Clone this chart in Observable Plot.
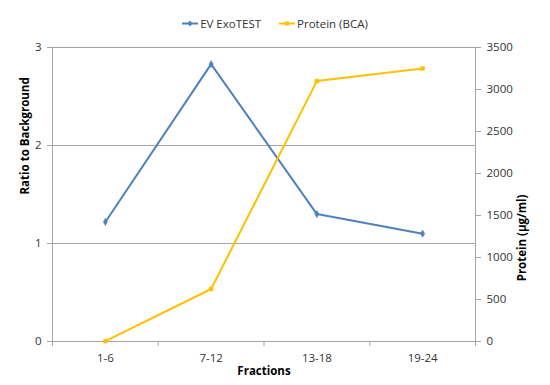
<!DOCTYPE html>
<html>
<head>
<meta charset="utf-8">
<script src="https://cdn.jsdelivr.net/npm/d3@7"></script>
<script src="https://cdn.jsdelivr.net/npm/@observablehq/plot@0.6"></script>
<style>
  html, body { margin: 0; padding: 0; background: #fff; }
  #wrap { position: relative; width: 550px; height: 385px; font-family: "Open Sans", sans-serif; }
  #legend { position: absolute; top: 16px; left: 0; width: 550px; text-align: center; font-size: 11.5px; color: #333; }
  .item { display: inline-flex; align-items: center; margin: 0 9px; }
  .item svg { margin-right: 2px; }
</style>
</head>
<body>
<div id="wrap">
  <div id="legend"></div>
</div>
<script>
const fractions = ["1-6", "7-12", "13-18", "19-24"];
const ratio = [1.22, 2.83, 1.30, 1.10];
const protein = [5, 625, 3100, 3250];
const ratioTicks = [0, 1, 2, 3];
const proteinTicks = [0, 500, 1000, 1500, 2000, 2500, 3000, 3500];
const seriesNames = ["EV ExoTEST", "Protein (BCA)"];
const colors = ["#4F81BD", "#FFC000"];

const proteinMax = 3500, ratioMax = 3;
const toY = p => p * ratioMax / proteinMax;

const ratioData = fractions.map((f, i) => ({x: i + 0.5, y: ratio[i]}));
const proteinData = fractions.map((f, i) => ({x: i + 0.5, y: toY(protein[i])}));
const grey = "#a6a6a6";
const font = "Open Sans, sans-serif";

const chart = Plot.plot({
  width: 550,
  height: 385,
  marginLeft: 52,
  marginRight: 75,
  marginTop: 47,
  marginBottom: 44,
  style: {fontFamily: font, fontSize: "11.5px", color: "#333", background: "transparent"},
  x: {domain: [0, 4], axis: null},
  y: {domain: [0, 3], axis: null},
  marks: [
    Plot.ruleY([1, 2, 3], {stroke: grey, strokeWidth: 1}),
    Plot.ruleY([0], {stroke: grey, strokeWidth: 1}),
    Plot.ruleX([0, 4], {stroke: grey, strokeWidth: 1}),
    Plot.axisY({ticks: ratioTicks, tickSize: 5, tickPadding: 6, stroke: grey, tickFormat: d => String(d), label: null, fontSize: 11.5, fill: "#333"}),
    Plot.axisY({anchor: "right", ticks: proteinTicks.map(toY), tickSize: 5, tickPadding: 6, stroke: grey,
      tickFormat: d => String(Math.round(d * proteinMax / ratioMax)), label: null, fontSize: 11.5, fill: "#333"}),
    Plot.axisX({ticks: [0, 1, 2, 3, 4], tickSize: 5, stroke: grey, tickFormat: () => "", label: null}),
    Plot.axisX({ticks: fractions.map((f, i) => i + 0.5), tickSize: 0, tickPadding: 12, tickFormat: d => fractions[Math.round(d - 0.5)], label: null, fontSize: 11.5, fill: "#333"}),
    Plot.text(["Ratio to Background"], {frameAnchor: "left", dx: -27, rotate: -90, fontWeight: "bold", fontSize: 11.5, fill: "#000"}),
    Plot.text(["Protein (µg/ml)"], {frameAnchor: "right", dx: 47, rotate: -90, fontWeight: "bold", fontSize: 11.5, fill: "#000"}),
    Plot.text(["Fractions"], {frameAnchor: "bottom", dy: 33, fontWeight: "bold", fontSize: 11.5, fill: "#000"}),
    Plot.line(ratioData, {x: "x", y: "y", stroke: colors[0], strokeWidth: 2}),
    Plot.dot(ratioData, {x: "x", y: "y", symbol: "diamond", r: 2.2, fill: colors[0], stroke: colors[0], strokeWidth: 0.5}),
    Plot.line(proteinData, {x: "x", y: "y", stroke: colors[1], strokeWidth: 2}),
    Plot.dot(proteinData, {x: "x", y: "y", symbol: "square", r: 2.2, fill: colors[1], stroke: colors[1], strokeWidth: 0.5})
  ]
});
document.getElementById("wrap").appendChild(chart);

const legend = document.getElementById("legend");
seriesNames.forEach((name, i) => {
  const marker = i === 0
    ? `<polygon points="8,1.5 10.5,4.5 8,7.5 5.5,4.5" fill="${colors[0]}"/>`
    : `<rect x="6" y="2.5" width="4" height="4" fill="${colors[1]}"/>`;
  const span = document.createElement("span");
  span.className = "item";
  span.innerHTML = `<svg width="16" height="9"><line x1="0" x2="16" y1="4.5" y2="4.5" stroke="${colors[i]}" stroke-width="2"/>${marker}</svg>${name}`;
  legend.appendChild(span);
});
</script>
</body>
</html>
